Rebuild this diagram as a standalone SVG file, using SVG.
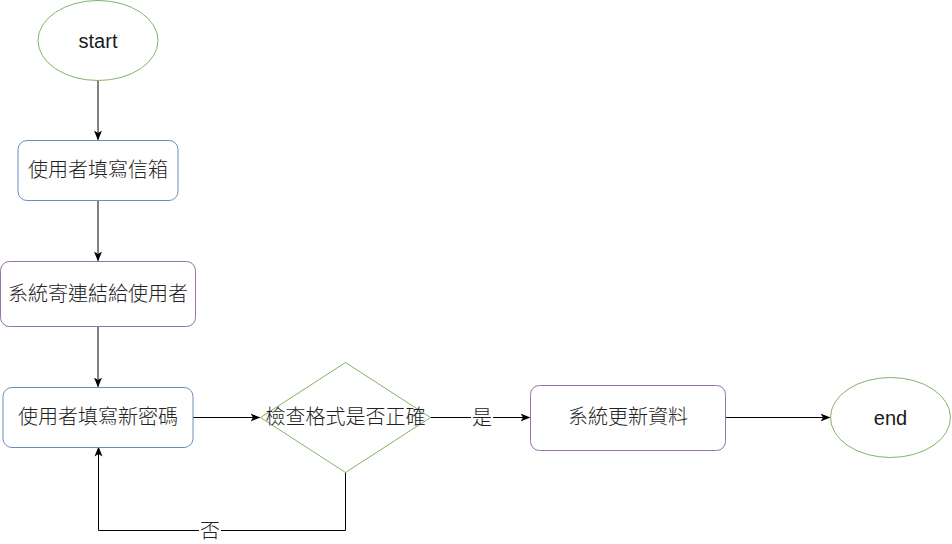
<svg xmlns="http://www.w3.org/2000/svg" width="952" height="544" viewBox="0 0 952 544">
  <style>
    text { font-family: "Liberation Sans", "Noto Sans CJK TC", sans-serif; font-size: 20px; fill: #1a1a1a; text-anchor: middle; }
    .cjk { font-family: "Noto Sans CJK TC", sans-serif; font-weight: 300; fill: #222222; }
    .green { fill: #ffffff; stroke: #82b366; stroke-width: 1; }
    .blue { fill: #ffffff; stroke: #6c8ebf; stroke-width: 1; }
    .purple { fill: #ffffff; stroke: #9673a6; stroke-width: 1; }
    .edge { fill: none; stroke: #000000; stroke-width: 1; }
    .lbl-bg { fill: #ffffff; }
  </style>
  <defs>
    <marker id="arrow" viewBox="0 0 10 10" refX="9" refY="5" markerWidth="10" markerHeight="10" markerUnits="userSpaceOnUse" orient="auto">
      <path d="M0,1 L10,5 L0,9 L2.5,5 Z" fill="#000000"/>
    </marker>
  </defs>
  <rect width="952" height="544" fill="#ffffff"/>

  <g id="edges">
    <path class="edge" d="M98,80.5 V139.5" marker-end="url(#arrow)"/>
    <path class="edge" d="M98,200.5 V260.5" marker-end="url(#arrow)"/>
    <path class="edge" d="M98,326.5 V386.5" marker-end="url(#arrow)"/>
    <path class="edge" d="M193,417.5 H259.5" marker-end="url(#arrow)"/>
    <path class="edge" d="M430,417.5 H529.5" marker-end="url(#arrow)"/>
    <path class="edge" d="M725,417.5 H829.5" marker-end="url(#arrow)"/>
    <path class="edge" d="M345.5,472 V530.5 H98.5 V447.5" marker-end="url(#arrow)"/>
    <g id="label-yes">
      <rect class="lbl-bg" x="471" y="406" width="22" height="24"/>
      <text class="cjk" x="482" y="425">是</text>
    </g>
    <g id="label-no">
      <rect class="lbl-bg" x="199" y="519" width="22" height="24"/>
      <text class="cjk" x="210" y="538">否</text>
    </g>
  </g>

  <g id="start">
    <ellipse class="green" cx="98" cy="40.5" rx="60" ry="40"/>
    <text x="98" y="48">start</text>
  </g>

  <g id="fill-email">
    <rect class="blue" x="18" y="140.5" width="160" height="60" rx="9"/>
    <text class="cjk" x="98" y="177">使用者填寫信箱</text>
  </g>

  <g id="send-link">
    <rect class="purple" x="0.5" y="261.5" width="195" height="65" rx="9"/>
    <text class="cjk" x="98" y="301">系統寄連結給使用者</text>
  </g>

  <g id="fill-password">
    <rect class="blue" x="3" y="387.5" width="190" height="60" rx="9"/>
    <text class="cjk" x="98" y="424">使用者填寫新密碼</text>
  </g>

  <g id="check-format">
    <polygon class="green" points="345.5,362.5 430.5,417.5 345.5,472.5 260.5,417.5"/>
    <text class="cjk" x="345.5" y="424">檢查格式是否正確</text>
  </g>

  <g id="update-data">
    <rect class="purple" x="530.5" y="385.5" width="195" height="65" rx="9"/>
    <text class="cjk" x="628" y="424">系統更新資料</text>
  </g>

  <g id="end">
    <ellipse class="green" cx="890.5" cy="417.5" rx="60" ry="40"/>
    <text x="890.5" y="425">end</text>
  </g>
</svg>
